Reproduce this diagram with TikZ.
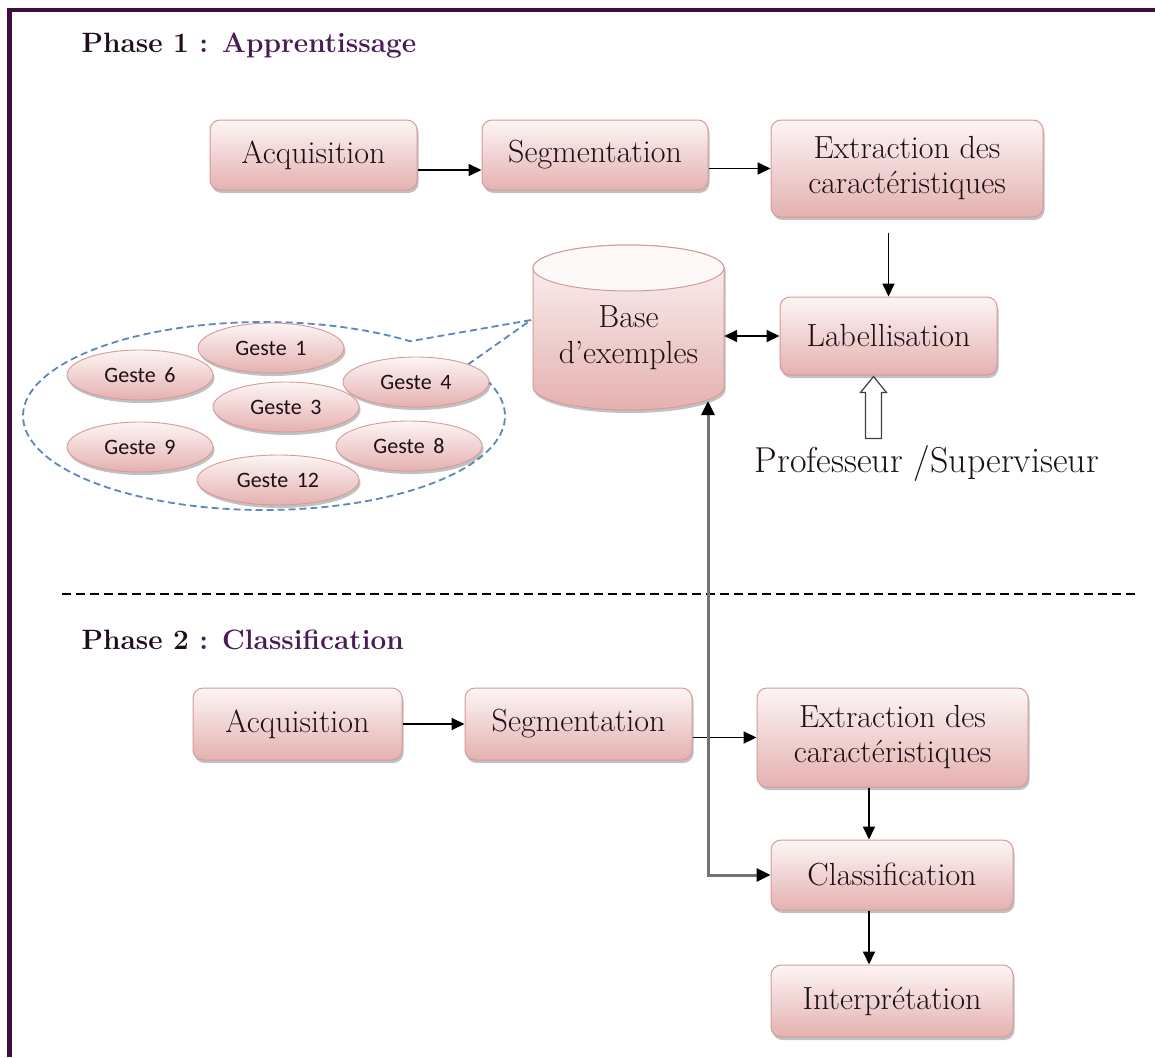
\documentclass[tikz,border=0pt]{standalone}
\usepackage{fontspec}
\newfontfamily\gestefont{Carlito}
\usetikzlibrary{arrows.meta,shapes.geometric,shapes.callouts,shadows}
\definecolor{frame}{HTML}{3E0F3C}
\definecolor{boxdraw}{HTML}{D69A99}
\definecolor{boxtop}{HTML}{FDF5F5}
\definecolor{boxbot}{HTML}{E4B1B0}
\definecolor{dashblue}{HTML}{5B87C0}
\definecolor{titlepurple}{HTML}{4A1C55}
\definecolor{titledark}{HTML}{1E0E1D}
\definecolor{txt}{HTML}{1C1016}
\begin{document}
\begin{tikzpicture}[x=1pt,y=-1pt,
  shad/.style={drop shadow={shadow xshift=1.5pt,shadow yshift=-3pt,opacity=0.35,fill=black!70}},
  stepbox/.style={rectangle, rounded corners=10pt, draw=boxdraw, line width=1pt,
    top color=boxtop, bottom color=boxbot, shad, inner sep=0pt, align=center,
    font=\fontsize{32}{35}\selectfont, text=txt},
  geste/.style={ellipse, draw=boxdraw, line width=0.9pt, top color=boxtop, bottom color=boxbot,
    shad, inner sep=0pt, minimum width=146pt, minimum height=50pt,
    font=\gestefont\fontsize{22}{24}\selectfont, text=txt},
  title/.style={anchor=west, font=\bfseries\fontsize{28}{32}\selectfont},
  arr/.style={-{Triangle[length=13pt,width=12pt]}, line width=1.8pt, black},
  darr/.style={{Triangle[length=13pt,width=12pt]}-{Triangle[length=13pt,width=12pt]}, line width=1.8pt, black},
  gcon/.style={{Triangle[length=14pt,width=13pt,color=black]}-{Triangle[length=14pt,width=13pt,color=black]}, line width=3pt, black!55},
]
\useasboundingbox (0,0) rectangle (1155,1057);
% frame
\draw[frame, line width=4.5pt] (9.5,1057) -- (9.5,10) -- (1155,10);

% titles
\node[title] (t1) at (78,46) {\textcolor{titledark}{Phase 1} \textcolor{titlepurple}{: Apprentissage}};
\node[title] (t2) at (78,640) {\textcolor{titledark}{Phase 2} \textcolor{titlepurple}{: Classification}};

% separator
\coordinate (s1) at (62,594);
\coordinate (s2) at (1137,594);
\draw[line width=1.3pt, dash pattern=on 9pt off 5pt] (s1) -- (s2);

% Phase 1 boxes
\node[stepbox, minimum width=207pt, minimum height=70pt] (acq1) at (313.5,155) {Acquisition};
\node[stepbox, minimum width=226pt, minimum height=70pt] (seg1) at (595,155) {Segmentation};
\node[stepbox, minimum width=272pt, minimum height=97pt] (ext1) at (907,168.5) {Extraction des\\caractéristiques};
\node[stepbox, minimum width=217pt, minimum height=78pt] (lab) at (888.5,336) {Labellisation};

% cylinder
\node[minimum width=191pt, minimum height=165pt, inner sep=0pt] (base) at (628.5,327.5) {};
\path[top color=boxtop, bottom color=boxbot, draw=boxdraw, line width=1pt, shad]
  (533,268) -- (533,387) arc[start angle=180,end angle=360,x radius=95.5pt,y radius=23pt]
  -- (724,268) arc[start angle=0,end angle=180,x radius=95.5pt,y radius=23pt] -- cycle;
\draw[boxdraw, line width=1pt, fill=boxtop!60!white] (628.5,268) ellipse [x radius=95.5pt, y radius=23pt];
\node[align=center, font=\fontsize{32}{36}\selectfont, text=txt] (basetxt) at (628.5,338) {Base\\d’exemples};

% group callout
\node[ellipse callout, draw=dashblue, line width=1.8pt, dash pattern=on 7pt off 4pt,
  minimum width=482pt, minimum height=188pt, inner sep=0pt,
  callout absolute pointer={(531,320)}, callout pointer arc=20] (grp) at (264,416) {};
\node[geste] (g1) at (271,348) {Geste\, 1};
\node[geste] (g6) at (140,375) {Geste\, 6};
\node[geste] (g4) at (416,382) {Geste\, 4};
\node[geste] (g3) at (286,407) {Geste\, 3};
\node[geste] (g9) at (140,447) {Geste\, 9};
\node[geste] (g8) at (409,446) {Geste\, 8};
\node[geste, minimum width=162pt] (g12) at (278,480) {Geste\, 12};

% Professeur
\node[font=\fontsize{36}{40}\selectfont, text=txt] (prof) at (927,463) {Professeur /Superviseur};
\coordinate (tip) at ([xshift=-15pt,yshift=-1pt]lab.south);
\draw[black!75, line width=1.2pt, fill=white, line join=miter]
  (tip) -- ++(13,16) -- ++(-5,0) -- ++(0,46) -- ++(-16,0) -- ++(0,-46) -- ++(-5,0) -- cycle;

% Phase 1 arrows
\draw[arr] ([yshift=-15pt]acq1.east) -- ([yshift=-15pt]seg1.west);
\draw[arr] (seg1.east |- ext1.west) -- (ext1.west);
\draw[arr, shorten <=15pt] (ext1.south -| lab.north) -- (lab.north);
\draw[darr] (base.east |- lab.west) -- (lab.west);

% Phase 2 boxes
\node[stepbox, minimum width=209pt, minimum height=72pt] (acq2) at (297.5,724) {Acquisition};
\node[stepbox, minimum width=227pt, minimum height=72pt] (seg2) at (578.5,724) {Segmentation};
\node[stepbox, minimum width=271pt, minimum height=99pt] (ext2) at (892.5,737.5) {Extraction des\\caractéristiques};
\node[stepbox, minimum width=242pt, minimum height=70pt] (cls) at (892,875) {Classification};
\node[stepbox, minimum width=242pt, minimum height=72pt] (interp) at (892,1001) {Interprétation};

% Phase 2 arrows
\draw[arr] (acq2) -- (seg2);
\draw[arr] (seg2.east |- ext2.west) -- (ext2.west);
\draw[arr] ([xshift=-23pt]cls.north |- ext2.south) -- ([xshift=-23pt]cls.north);
\draw[arr] ([xshift=-23pt]cls.south) -- ([xshift=-23pt]interp.north);
\coordinate (bb) at (708,401);
\draw[gcon] (cls.west) -| (bb);
\end{tikzpicture}
\end{document}
